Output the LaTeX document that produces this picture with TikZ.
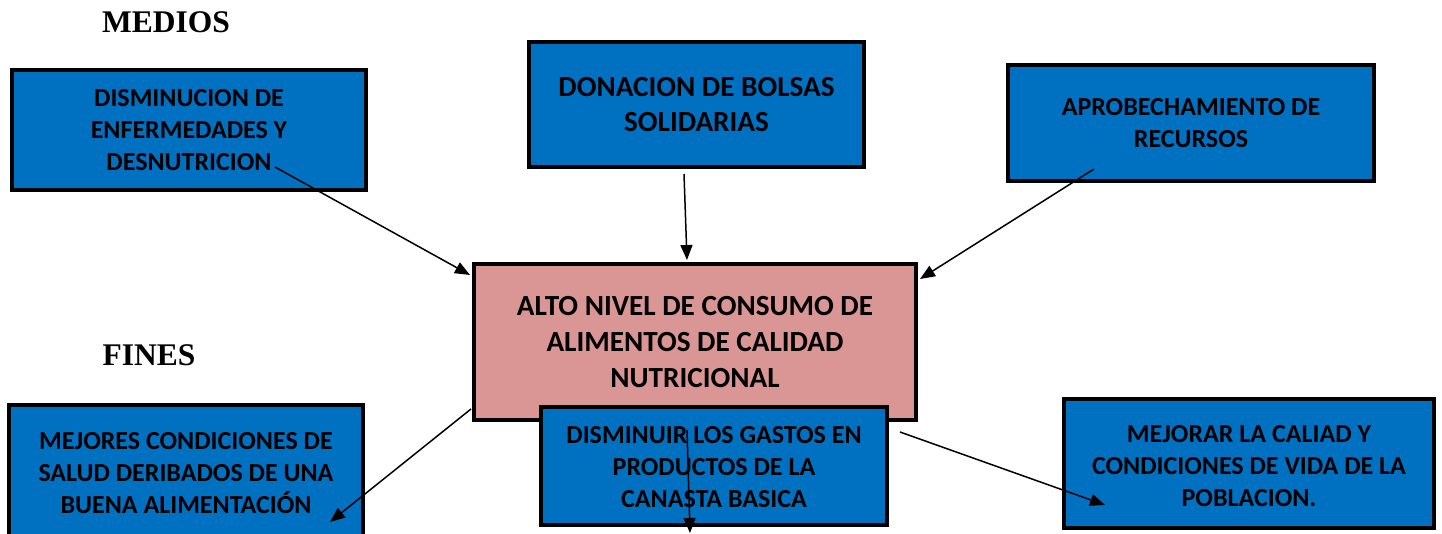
\documentclass[tikz,border=0pt]{standalone}
\usepackage{fontspec}
\setmainfont{Carlito}
\newfontfamily\headfont{Liberation Serif}
\usetikzlibrary{arrows.meta}
\definecolor{boxblue}{HTML}{0070C0}
\definecolor{boxpink}{HTML}{D99694}
\newcommand{\lowertext}[2]{\raisebox{-#1}[\height][\depth]{\begin{tabular}{@{}c@{}}#2\end{tabular}}}
\tikzset{
  boxnode/.style={draw=black, line width=4pt, fill=boxblue, align=center, inner sep=0pt,
    font=\bfseries\fontsize{26}{32}\selectfont},
  centernode/.style={boxnode, fill=boxpink, font=\bfseries\fontsize{29.2}{35.8}\selectfont},
  heading/.style={font=\headfont\bfseries\fontsize{31.5}{36}\selectfont, inner sep=0pt},
  conn/.style={line width=1.5pt, -{Triangle[length=15pt,width=12pt]}}
}
\begin{document}
\begin{tikzpicture}[x=1pt,y=1pt]
\useasboundingbox (0,0) rectangle (1442,533);
\begin{scope}
\clip (0,0) rectangle (1442,533);
% headings
\node[heading] (medios) at (166,511) {MEDIOS};
\node[heading] (fines) at (149,178) {FINES};
% top boxes
\node[boxnode, minimum width=354pt, minimum height=120pt] (b1) at (189,403)
  {DISMINUCION DE\\ENFERMEDADES Y\\DESNUTRICION};
\node[boxnode, minimum width=335pt, minimum height=125pt, font=\bfseries\fontsize{29.2}{35}\selectfont] (b2) at (696.5,428.5)
  {DONACION DE BOLSAS\\SOLIDARIAS};
\node[boxnode, minimum width=366pt, minimum height=116pt] (b3) at (1191,410)
  {\lowertext{2pt}{APROBECHAMIENTO DE\\RECURSOS}};
% center
\node[centernode, minimum width=442pt, minimum height=156pt] (c) at (695,191)
  {ALTO NIVEL DE CONSUMO DE\\ALIMENTOS DE CALIDAD\\NUTRICIONAL};
% bottom boxes
\node[boxnode, minimum width=354pt, minimum height=136pt] (b4) at (186,60)
  {MEJORES CONDICIONES DE\\SALUD DERIBADOS DE UNA\\BUENA ALIMENTACIÓN};
\node[boxnode, minimum width=346pt, minimum height=118pt] (b5) at (714,67)
  {\lowertext{3pt}{DISMINUIR LOS GASTOS EN\\PRODUCTOS DE LA\\CANASTA BASICA}};
\node[boxnode, minimum width=370pt, minimum height=129pt] (b6) at (1249,69.5)
  {\lowertext{5pt}{MEJORAR LA CALIAD Y\\CONDICIONES DE VIDA DE LA\\POBLACION.}};
% connector ends
\coordinate (s1) at (275,366);
\coordinate (e1) at (470,258);
\coordinate (s2) at (684,359);
\coordinate (e2) at (687,273);
\coordinate (s3) at (1094,364);
\coordinate (e3) at (920,254);
\coordinate (s4) at (471,124);
\coordinate (e4) at (330,11);
\coordinate (s5) at (900,101);
\coordinate (e5) at (1105,28);
\coordinate (s6) at (687,103);
\coordinate (e6) at (690,0);
\draw[conn] (s1) -- (e1);
\draw[conn] (s2) -- (e2);
\draw[conn] (s3) -- (e3);
\draw[conn] (s4) -- (e4);
\draw[conn] (s5) -- (e5);
\draw[conn] (s6) -- (e6);
\end{scope}
\end{tikzpicture}
\end{document}
